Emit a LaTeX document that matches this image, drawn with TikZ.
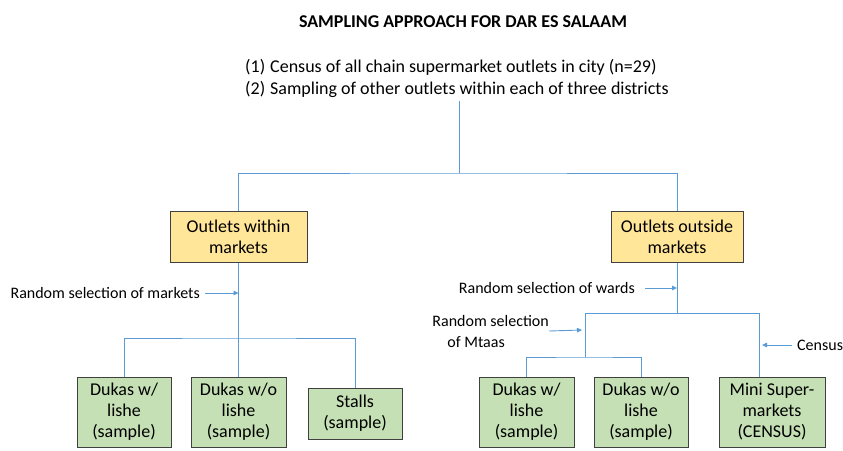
\documentclass[tikz,border=0pt]{standalone}
\usepackage{fontspec}
\setmainfont{Carlito}
\usetikzlibrary{arrows.meta}
\definecolor{linkblue}{HTML}{5B9BD5}
\definecolor{boxyellow}{HTML}{FFE699}
\definecolor{boxgreen}{HTML}{C5E0B4}
\definecolor{boxedge}{HTML}{404040}
\begin{document}
\begin{tikzpicture}[x=1pt,y=-1pt,
  font=\fontsize{18}{21}\selectfont,
  link/.style={draw=linkblue, line width=0.9pt},
  pointer/.style={link, -{Triangle[length=5pt,width=4.5pt]}},
  catbox/.style={draw=boxedge, fill=boxyellow, line width=1pt, align=center, inner sep=0pt, minimum height=51},
  leafbox/.style={draw=boxedge, fill=boxgreen, line width=1pt, align=center, inner sep=0pt},
  plain/.style={inner sep=0pt},
  note/.style={inner sep=0pt, font=\fontsize{16}{21}\selectfont}]
\useasboundingbox (0,0) rectangle (843,450);
% title and intro
\node[plain, font=\fontsize{18}{21}\selectfont\bfseries] (title) at (463,22) {SAMPLING APPROACH FOR DAR ES SALAAM};
\node[plain, anchor=base west] (intro1) at (245,72) {(1)\hspace{5pt}Census of all chain supermarket outlets in city (n=29)};
\node[plain, anchor=base west] (intro2) at (245,94) {(2)\hspace{5pt}Sampling of other outlets within each of three districts};
% category boxes
\node[catbox, minimum width=137] (inm) at (238.5,236.5) {Outlets within\\markets};
\node[catbox, minimum width=132] (outm) at (677,236.5) {Outlets outside\\markets};
% leaf boxes
\node[leafbox, minimum width=94, minimum height=70] (d1) at (124,412) {Dukas w/\\lishe\\(sample)};
\node[leafbox, minimum width=95, minimum height=70] (d2) at (238.5,412) {Dukas w/o\\lishe\\(sample)};
\node[leafbox, minimum width=94, minimum height=51] (st) at (355,413.5) {Stalls\\(sample)};
\node[leafbox, minimum width=95, minimum height=70] (d3) at (526.5,412) {Dukas w/\\lishe\\(sample)};
\node[leafbox, minimum width=94, minimum height=70] (d4) at (641,412) {Dukas w/o\\lishe\\(sample)};
\node[leafbox, minimum width=106, minimum height=70] (mini) at (772,412) {Mini Super-\\markets\\(CENSUS)};
% junctions
\coordinate (c0) at (459,101);
\coordinate (c1) at (459,173);
\coordinate (c2) at (238.5,338);
\coordinate (c3) at (677,313);
\coordinate (c4) at (585,313);
\coordinate (c5) at (759,313);
\coordinate (c6) at (585,357);
\coordinate (a1) at (238.5,293);
\coordinate (a2) at (677,288);
\coordinate (a3) at (582,330);
\coordinate (a4) at (762,345);
% tree connectors
\draw[link] (c0) -- (c1);
\draw[link] (inm.north) |- (c1) -| (outm.north);
\draw[link] (inm.south) -- (c2);
\draw[link] (d1.north) |- (c2) -| (st.north);
\draw[link] (c2) -- (d2.north);
\draw[link] (outm.south) -- (c3);
\draw[link] (c4) -- (c5) -- (c5 |- mini.north);
\draw[link] (c4) -- (c6);
\draw[link] (d3.north) |- (c6) -| (d4.north);
% annotations
\node[note, anchor=east] (rsm) at (200,293) {Random selection of markets};
\draw[pointer] ([xshift=5pt]rsm.east) -- (a1);
\node[note, anchor=east] (rsw) at (635,288) {Random selection of wards};
\draw[pointer] ([xshift=10pt]rsw.east) -- (a2);
\node[note, align=left, anchor=east] (rsmt) at (549,331) {Random selection\\\hspace{15pt}of Mtaas};
\draw[pointer] (rsmt.east) -- (a3);
\node[note, anchor=west] (cen) at (797,345) {Census};
\draw[pointer] ([xshift=-5pt]cen.west) -- (a4);
\end{tikzpicture}
\end{document}
